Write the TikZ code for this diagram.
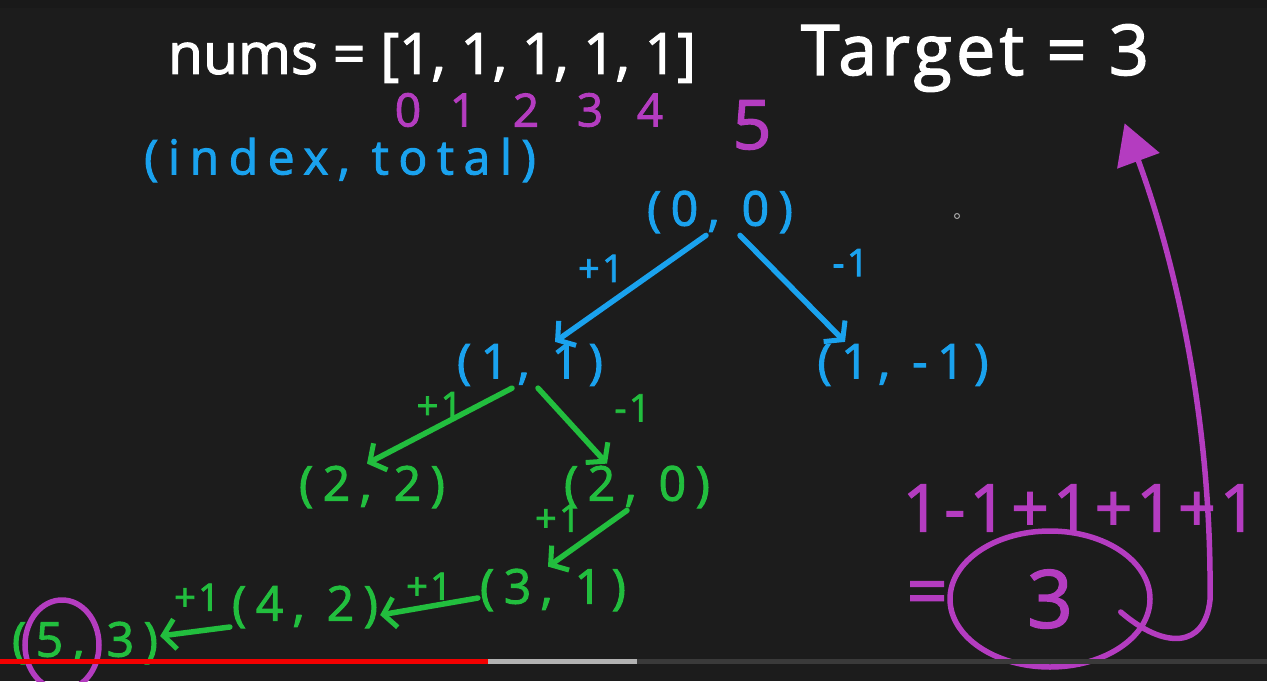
\documentclass[tikz,border=0pt]{standalone}
\usepackage{fontspec}
\setmainfont{Open Sans}
\newfontfamily\handplain[FakeBold=2]{Open Sans}
\newfontfamily\hand[LetterSpace=6,FakeBold=2]{Open Sans}
\newfontfamily\handwide[LetterSpace=20,FakeBold=2]{Open Sans}
\usetikzlibrary{arrows.meta,positioning,shapes.geometric}
\definecolor{board}{HTML}{1C1C1C}
\definecolor{chalk}{HTML}{FFFFFF}
\definecolor{cyanink}{HTML}{1AA2EE}
\definecolor{greenink}{HTML}{22BE3E}
\definecolor{purpleink}{HTML}{B43CC0}
\definecolor{barred}{HTML}{F20000}
\tikzset{>={Straight Barb[length=12pt,width=30pt,line width=5pt]},
  every node/.style={font=\hand},
  pair/.style={font=\handwide\fontsize{48}{54}\selectfont,inner sep=2pt},
  bluepair/.style={pair,text=cyanink},
  greenpair/.style={pair,text=greenink},
  edge/.style={->,line width=5.5pt,line cap=round},
  lbl/.style={font=\hand\fontsize{38}{42}\selectfont,inner sep=4pt},
  idx/.style={font=\hand\fontsize{46}{50}\selectfont,text=purpleink,inner sep=0pt},
  pen/.style={draw=purpleink,line width=5.5pt,line cap=round}}
\begin{document}
\begin{tikzpicture}[x=1pt,y=-1pt]
\useasboundingbox (0,0) rectangle (1267,681);
\fill[board] (0,0) rectangle (1267,681);
\fill[black!90] (0,0) rectangle (1267,8);
% header: the list, the target and the indices
\node[text=chalk,font=\handplain\fontsize{57}{62}\selectfont,inner sep=0pt] (nums) at (432,58) {nums = [1, 1, 1, 1, 1]};
\node[text=chalk,font=\hand\fontsize{70}{76}\selectfont] (target) at (975,58) {Target = 3};
\foreach \i/\x in {0/408,1/463,2/526,3/590,4/650}
  \node[idx] (i\i) at (\x,110) {\i};
\node[idx,font=\hand\fontsize{68}{72}\selectfont] (i5) at (752,125) {5};
\node[text=cyanink,font=\handwide\fontsize{48}{54}\selectfont] (state) at (340,160) {(index, total)};
% recursion tree
\node[bluepair] (root) at (720,212) {(0, 0)};
\node[bluepair] (l) at (530,365) {(1, 1)};
\node[bluepair] (r) at (903,365) {(1, -1)};
\node[greenpair] (ll) at (372,487) {(2, 2)};
\node[greenpair] (lr) at (637,487) {(2, 0)};
\node[greenpair] (lrl) at (553,590) {(3, 1)};
\node[greenpair] (lrll) at (305,607) {(4, 2)};
\node[greenpair] (leaf) at (85,643) {(5, 3)};
\draw[edge,cyanink] ([xshift=-14pt]root.south) -- node[lbl,text=cyanink,above left] {+1} ([xshift=25pt]l.north);
\draw[edge,cyanink] ([xshift=20pt]root.south) -- node[lbl,text=cyanink,xshift=58pt,yshift=26pt] {-1} ([xshift=-58pt]r.north);
\draw[edge,greenink] ([xshift=-18pt]l.south) -- node[lbl,text=greenink,above] {+1} ([xshift=-5pt]ll.north);
\draw[edge,greenink] ([xshift=8pt]l.south) -- node[lbl,text=greenink,xshift=60pt,yshift=18pt] {-1} ([xshift=-30pt]lr.north);
\draw[edge,greenink] ([xshift=-10pt]lr.south) -- node[lbl,text=greenink,above left] {+1} ([xshift=-5pt]lrl.north);
\draw[edge,greenink] ([yshift=-8pt]lrl.west) -- node[lbl,text=greenink,above] {+1} ([yshift=-8pt]lrll.east);
\draw[edge,greenink] ([yshift=-20pt]lrll.west) -- node[lbl,text=greenink,above,xshift=2pt,yshift=14pt] {+1} ([yshift=7pt]leaf.east);
\draw[pen] (62,645) ellipse [x radius=37,y radius=45];
% the sum that reaches the target
\node[text=purpleink,font=\hand\fontsize{66}{70}\selectfont] (sum) at (1080,508) {1-1+1+1+1};
\node[ellipse,pen,minimum width=200pt,minimum height=136pt,text=purpleink,
  font=\hand\fontsize{80}{84}\selectfont] (res) at (1050,599) {3};
\node[text=purpleink,font=\hand\fontsize{72}{76}\selectfont,left=-4pt of res] (eq) {=};
\draw[pen,-{Triangle[length=40pt,width=44pt]}] ([xshift=-32pt,yshift=-13pt]res.east)
  .. controls (1165,650) and (1205,648) .. (1210,600)
  .. controls (1212,420) and (1175,260) .. ([xshift=-28pt,yshift=-28pt]target.south east);
\draw[gray!70,line width=1pt] (957,216) circle (2.5pt);
% player progress bar
\fill[gray!30!board] (0,659) rectangle (1267,664);
\fill[gray!60] (0,659) rectangle (637,664);
\fill[barred] (0,659) rectangle (488,664);
\end{tikzpicture}
\end{document}
